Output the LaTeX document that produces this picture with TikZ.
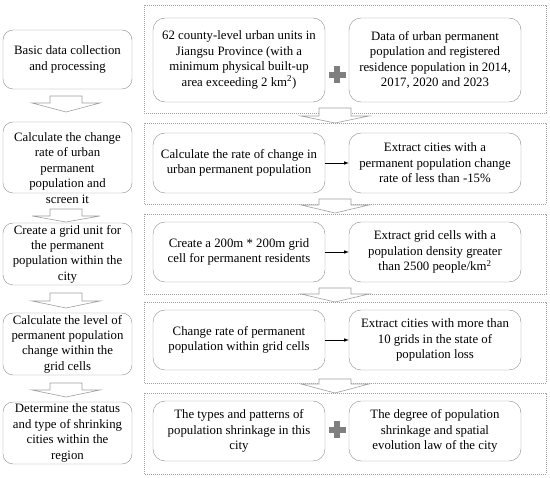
\documentclass[tikz,border=0pt]{standalone}
\usepackage{fontspec}
\setmainfont{Liberation Serif}
\usetikzlibrary{arrows}
\usetikzlibrary{calc}

\definecolor{boxgray}{HTML}{8C8C8C}
\definecolor{framegray}{HTML}{A0A0A0}
\definecolor{plusgray}{HTML}{7F7F7F}

% hollow down arrow: x, stem top, head base, tip
\newcommand{\hollowdown}[4]{%
  \draw[harrow] (#1-16,#2) -- (#1+16,#2) -- (#1+16,#3) -- (#1+34,#3) -- (#1,#4)
    -- (#1-34,#3) -- (#1-16,#3) -- cycle;}
% grey plus sign
\newcommand{\plussign}[2]{%
  \fill[plusgray] (#1-8.5,#2-3) rectangle (#1+8.5,#2+3);
  \fill[plusgray] (#1-3,#2-8.5) rectangle (#1+3,#2+8.5);}

\begin{document}
\begin{tikzpicture}[x=1pt,y=-1pt,
    txt/.style={align=center,text=black,font=\fontsize{12.8pt}{15.4pt}\selectfont},
    lbox/.style={txt,draw=boxgray,rounded corners=10pt,minimum width=129pt,minimum height=62pt,inner sep=0.5pt},
    rbox/.style={txt,draw=boxgray,rounded corners=12pt,minimum width=172pt,minimum height=60pt,inner sep=0.5pt},
    frame/.style={draw=framegray,line width=0.6pt,dash pattern=on 0.8pt off 1.2pt},
    harrow/.style={draw=framegray,fill=white,line width=0.6pt},
    link/.style={-latex,line width=0.6pt,black}]
  \useasboundingbox (0,0) rectangle (550,478);

  % dotted frames on the right
  \draw[frame] (144,5) rectangle (546,113);
  \draw[frame] (144,123) rectangle (546,204);
  \draw[frame] (144,214) rectangle (546,294);
  \draw[frame] (144,302) rectangle (546,383);
  \draw[frame] (144,393) rectangle (546,474);

  % steps on the left
  \node[lbox,minimum height=59pt] (basic) at (67.5,59.5) {Basic data collection\\and processing};
  \node[lbox,minimum height=71pt] (calcrate) at (67.5,157.5) {};
  \node[txt,inner sep=0pt] (calcratetext) at (67.5,168) {Calculate the change\\rate of urban\\permanent\\population and\\screen it};
  \node[lbox] (gridunit) at (67.5,254) {Create a grid unit for\\the permanent\\population within the\\city};
  \node[lbox] (gridlevel) at (67.5,344) {Calculate the level of\\permanent population\\change within the\\grid cells};
  \node[lbox] (status) at (67.5,433) {Determine the status\\and type of shrinking\\cities within the\\region};

  % boxes in the frames
  \node[rbox,minimum height=84pt] (units) at (239,60) {62 county-level urban units in\\Jiangsu Province (with a\\minimum physical built-up\\area exceeding 2 km\textsuperscript{2})};
  \node[rbox,minimum height=84pt] (data) at (435,60) {Data of urban permanent\\population and registered\\residence population in 2014,\\2017, 2020 and 2023};
  \node[rbox] (rate) at (239,163) {Calculate the rate of change in\\urban permanent population};
  \node[rbox] (extract) at (435,163) {Extract cities with a\\permanent population change\\rate of less than -15\%};
  \node[rbox] (cell) at (239,252) {Create a 200m * 200m grid\\cell for permanent residents};
  \node[rbox] (density) at (435,252) {Extract grid cells with a\\population density greater\\than 2500 people/km\textsuperscript{2}};
  \node[rbox] (change) at (239,340) {Change rate of permanent\\population within grid cells};
  \node[rbox] (grids) at (435,340) {Extract cities with more than\\10 grids in the state of\\population loss};
  \node[rbox] (types) at (239,431) {The types and patterns of\\population shrinkage in this\\city};
  \node[rbox] (degree) at (435,431) {The degree of population\\shrinkage and spatial\\evolution law of the city};

  \plussign{337}{75}
  \plussign{337}{430}

  \draw[link] (rate) -- (extract);
  \draw[link] (cell) -- (density);
  \draw[link] (change) -- (grids);

  % hollow arrows
  \hollowdown{66}{96}{103}{112}
  \hollowdown{66}{209}{216}{222}
  \hollowdown{66}{293}{301}{308}
  \hollowdown{66}{383}{390}{397}
  \hollowdown{335}{108}{116}{123}
  \hollowdown{335}{199}{205}{213}
  \hollowdown{335}{288}{294}{302}
  \hollowdown{335}{379}{384}{393}
\end{tikzpicture}
\end{document}
